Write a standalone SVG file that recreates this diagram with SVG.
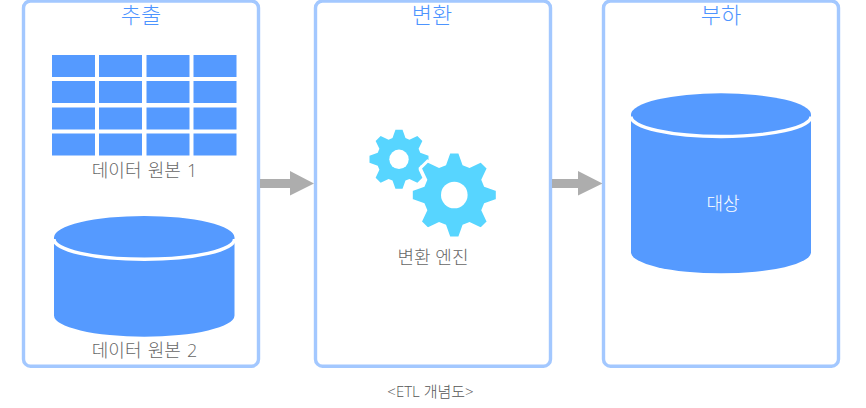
<svg xmlns="http://www.w3.org/2000/svg" width="866" height="408" viewBox="0 0 866 408">
<style>
text{font-family:"Open Sans","Noto Sans CJK KR",sans-serif;text-anchor:middle;font-weight:300}
.frame{fill:#fff;stroke:#a3c8ff;stroke-width:3.4}
.title{font-size:22px;fill:#4d94ff}
.label{font-size:18px;fill:#666}
.wide{word-spacing:1.5px}
.fill{fill:#559aff}
.rim{fill:none;stroke:#fff;stroke-width:3.4}
.arrow{fill:#adadad}
.gear{fill:#57d5ff}
</style>
<defs>
<polygon id="gearShape" points="-12,-100 12,-100 22,-72 35.36,-66.47 62.2,-79.2 79.2,-62.2 66.47,-35.36 72,-22 100,-12 100,12 72,22 66.47,35.36 79.2,62.2 62.2,79.2 35.36,66.47 22,72 12,100 -12,100 -22,72 -35.36,66.47 -62.2,79.2 -79.2,62.2 -66.47,35.36 -72,22 -100,12 -100,-12 -72,-22 -66.47,-35.36 -79.2,-62.2 -62.2,-79.2 -35.36,-66.47 -22,-72"/>
</defs>
<g id="extract">
<rect class="frame" x="23.5" y="1" width="235" height="365.2" rx="7"/>
<text class="title" x="141" y="23">추출</text>
</g>
<g id="source1">
<g class="fill">
<rect x="52" y="55" width="43" height="22"/><rect x="99" y="55" width="43" height="22"/><rect x="146.5" y="55" width="43" height="22"/><rect x="193.5" y="55" width="43" height="22"/>
<rect x="52" y="81" width="43" height="22"/><rect x="99" y="81" width="43" height="22"/><rect x="146.5" y="81" width="43" height="22"/><rect x="193.5" y="81" width="43" height="22"/>
<rect x="52" y="107.5" width="43" height="22"/><rect x="99" y="107.5" width="43" height="22"/><rect x="146.5" y="107.5" width="43" height="22"/><rect x="193.5" y="107.5" width="43" height="22"/>
<rect x="52" y="133.5" width="43" height="22"/><rect x="99" y="133.5" width="43" height="22"/><rect x="146.5" y="133.5" width="43" height="22"/><rect x="193.5" y="133.5" width="43" height="22"/>
</g>
<text class="label wide" x="144.5" y="177">데이터 원본 1</text>
</g>
<g id="source2">
<path class="fill" d="M54,237.3A90.25,21.3 0 0 1 234.5,237.3V315.5A90.25,21.2 0 0 1 54,315.5Z"/>
<path class="rim" d="M54,239A90.25,20.3 0 0 0 234.5,239"/>
<text class="label wide" x="144.5" y="357">데이터 원본 2</text>
</g>
<g id="transform">
<rect class="frame" x="315.5" y="1" width="235" height="365.2" rx="7"/>
<text class="title" x="432" y="23">변환</text>
</g>
<g id="engine">
<use href="#gearShape" class="gear" transform="translate(399 159.3) scale(.295)"/>
<circle cx="399" cy="159.3" r="9.7" fill="#fff"/>
<use href="#gearShape" class="gear" stroke="#fff" stroke-width="7" transform="translate(454.3 195) scale(.43)"/>
<circle cx="454.3" cy="195" r="13.3" fill="#fff"/>
<text class="label" x="433" y="264">변환 엔진</text>
</g>
<g id="load">
<rect class="frame" x="603.5" y="1" width="235" height="365.2" rx="7"/>
<text class="title" x="721" y="23">부하</text>
</g>
<g id="target">
<path class="fill" d="M631,114.7A90,21.4 0 0 1 811,114.7V252.3A90,21 0 0 1 631,252.3Z"/>
<path class="rim" d="M631,116.5A90,20 0 0 0 811,116.5"/>
<text x="723" y="210" style="font-size:18px;fill:#fff">대상</text>
</g>
<g id="connectors">
<polygon class="arrow" points="260,179 290,179 290,171 314,183.4 290,195.5 290,188 260,188"/>
<polygon class="arrow" points="552,179 578,179 578,171 602.5,183.4 578,195.5 578,188 552,188"/>
</g>
<text x="430.5" y="397" style="font-size:15px;fill:#555">&lt;ETL 개념도&gt;</text>
</svg>
